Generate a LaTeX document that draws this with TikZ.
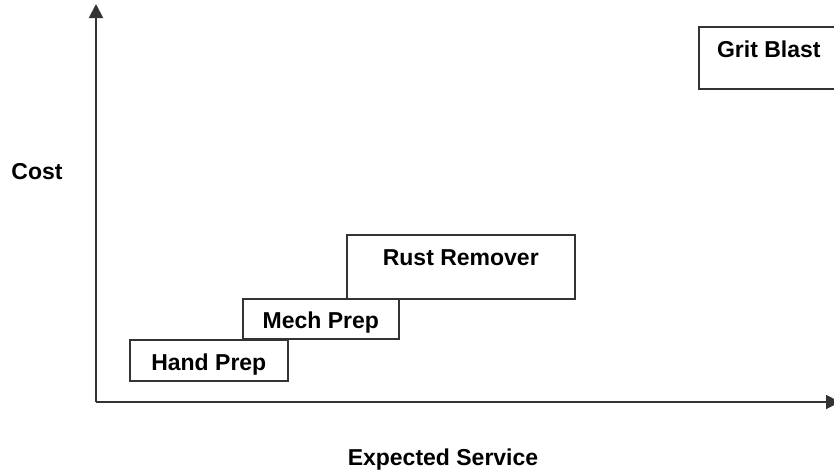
\documentclass[tikz,border=0pt]{standalone}
\usepackage{fontspec}
\setmainfont{Liberation Sans}
\usepackage{tikz}
\usetikzlibrary{arrows.meta,positioning}
\definecolor{ink}{HTML}{333333}
\tikzset{
  stagebox/.style={draw=ink,line width=1.6pt,anchor=north west,inner xsep=0pt,inner ysep=0pt,
    font=\fontsize{23}{27}\selectfont\bfseries,align=center},
  axis/.style={-{Triangle[length=14pt,width=14pt]},line width=1.9pt,draw=ink},
  axislabel/.style={font=\fontsize{23}{27}\selectfont\bfseries,inner sep=0pt}
}

\begin{document}
\begin{tikzpicture}[x=1pt,y=-1pt]
 \useasboundingbox (0,0) rectangle (834,472);
 \coordinate (origin) at (96,402);
 \coordinate (ytip) at (96,4);
 \coordinate (xtip) at (840,402);
 \draw[axis] (origin)--(ytip); \draw[axis] (origin)--(xtip);
 \node[axislabel] (cost) at (37,172) {Cost};
 \node[axislabel] (service) at (443,460) {Expected Service};
 \node[stagebox,minimum width=158pt,text height=31pt,text depth=10pt] (hand) at (129,339) {Hand Prep};
 \node[stagebox,minimum width=156pt,text height=30pt,text depth=10pt] (mech) at (242,298) {Mech Prep};
 \node[stagebox,minimum width=228pt,text height=31pt,text depth=33pt] (rust) at (346,234) {Rust Remover};
 \node[stagebox,minimum width=140pt,text height=31pt,text depth=31pt] (grit) at (698,26) {Grit Blast};
\end{tikzpicture}
\end{document}
